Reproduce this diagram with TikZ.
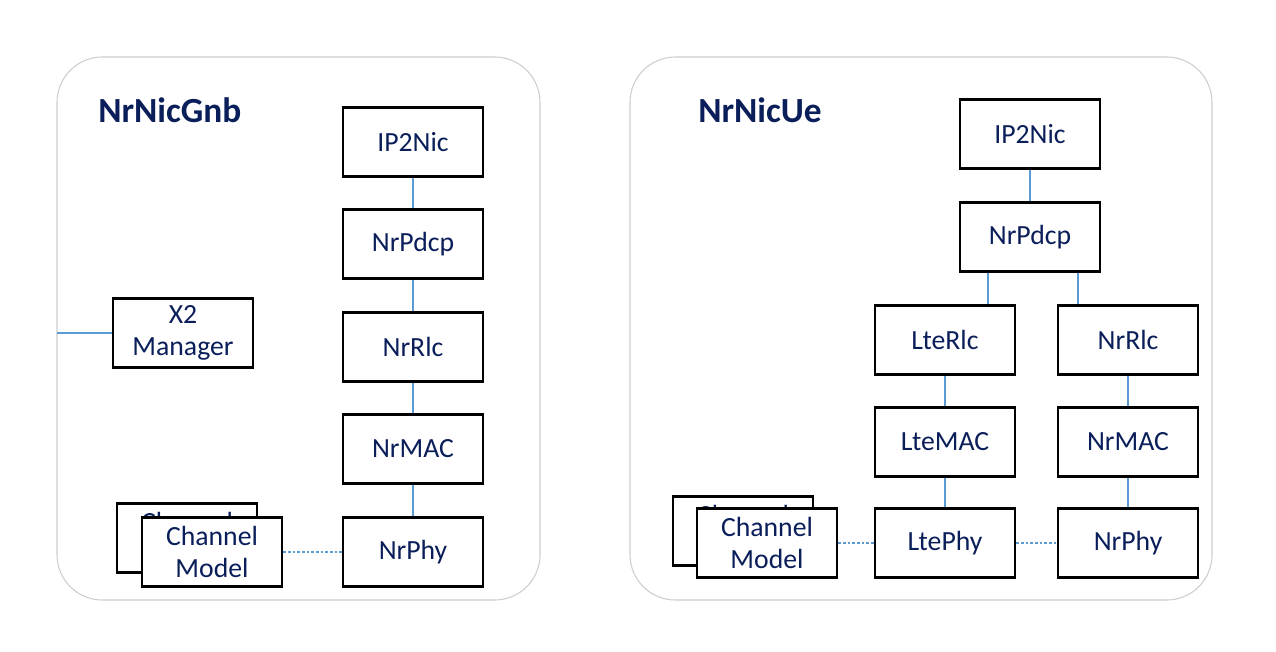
\documentclass[tikz,border=0pt]{standalone}
\usepackage{fontspec}
\setmainfont{Carlito}
\definecolor{navy}{RGB}{10,30,90}
\definecolor{linkblue}{RGB}{91,155,213}
\definecolor{panelgray}{RGB}{205,205,205}
\tikzset{
  module/.style={draw=black,line width=2pt,fill=white,minimum width=105pt,minimum height=52pt,
    inner sep=0pt,align=center,text=navy,font=\fontsize{20.8}{24}\selectfont},
  panel/.style={draw=panelgray,line width=0.8pt,rounded corners=34pt},
  title/.style={anchor=west,inner sep=0pt,text=navy,font=\fontsize{26.5}{30}\selectfont\bfseries},
  link/.style={draw=linkblue,line width=1.2pt},
  air/.style={link,dash pattern=on 2pt off 1.5pt}
}
\begin{document}
\begin{tikzpicture}[x=0.75pt,y=-0.75pt]
  \useasboundingbox (0,0) rectangle (1276,652);
  %%% gNB side
  \draw[panel] (57,57) rectangle (540,600);
  \node[title] (gnbtitle) at (98,110) {NrNicGnb};
  \node[module] (ipnicG) at (413,142) {IP2Nic};
  \node[module] (pdcpG) at (413,244) {NrPdcp};
  \node[module] (rlcG) at (413,347) {NrRlc};
  \node[module] (macG) at (413,449) {NrMAC};
  \node[module] (phyG) at (413,552) {NrPhy};
  \node[module] (x2mgr) at (183,333) {X2\\Manager};
  \coordinate (x2in) at (57,333);
  \node[module] (chanGback) at (187,538) {Channel\\Model};
  \node[module] (chanG) at (212,552) {Channel\\Model};
  \draw[link] (ipnicG) -- (pdcpG);
  \draw[link] (pdcpG) -- (rlcG);
  \draw[link] (rlcG) -- (macG);
  \draw[link] (macG) -- (phyG);
  \draw[link] (x2in) -- (x2mgr);
  \draw[air] (chanG) -- (phyG);
  %%% UE side
  \draw[panel] (630,57) rectangle (1212,600);
  \node[title] (uetitle) at (698,110) {NrNicUe};
  \node[module] (ipnicU) at (1030,134) {IP2Nic};
  \node[module] (pdcpU) at (1030,237) {NrPdcp};
  \node[module] (lteRlcU) at (945,340) {LteRlc};
  \node[module] (nrRlcU) at (1128,340) {NrRlc};
  \node[module] (lteMacU) at (945,442) {LteMAC};
  \node[module] (nrMacU) at (1128,442) {NrMAC};
  \node[module] (ltePhyU) at (945,543) {LtePhy};
  \node[module] (nrPhyU) at (1128,543) {NrPhy};
  \node[module] (chanUback) at (743,531) {Channel\\Model};
  \node[module] (chanU) at (767,543) {Channel\\Model};
  \draw[link] (ipnicU) -- (pdcpU);
  \draw[link] ([xshift=-31.5pt]pdcpU.south) -- ([xshift=-31.5pt]pdcpU.south |- lteRlcU.north);
  \draw[link] ([xshift=36pt]pdcpU.south) -- ([xshift=36pt]pdcpU.south |- nrRlcU.north);
  \draw[link] (lteRlcU) -- (lteMacU);
  \draw[link] (lteMacU) -- (ltePhyU);
  \draw[link] (nrRlcU) -- (nrMacU);
  \draw[link] (nrMacU) -- (nrPhyU);
  \draw[air] (chanU) -- (ltePhyU);
  \draw[air] (ltePhyU) -- (nrPhyU);
\end{tikzpicture}
\end{document}
